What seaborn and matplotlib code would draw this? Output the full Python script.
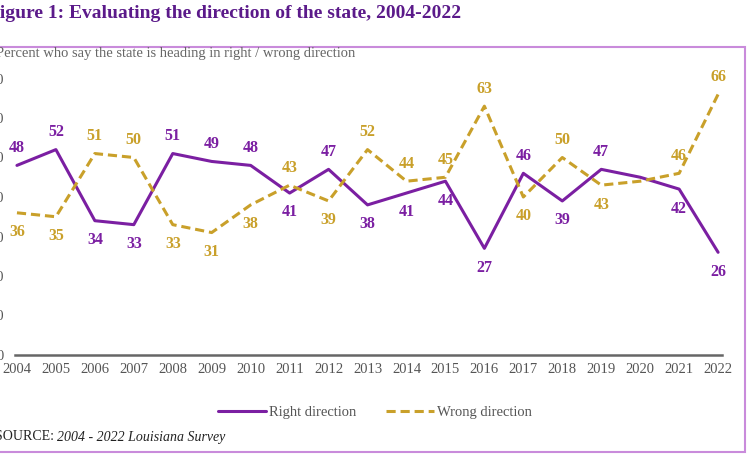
import matplotlib
matplotlib.use("Agg")
import matplotlib.pyplot as plt
import seaborn as sns
import pandas as pd
from matplotlib.patches import Rectangle
from matplotlib.lines import Line2D

years = list(range(2004, 2023))
right = [48, 52, 34, 33, 51, 49, 48, 41, 47, 38, 41, 44, 27, 46, 39, 47, 45, 42, 26]
wrong = [36, 35, 51, 50, 33, 31, 38, 43, 39, 52, 44, 45, 63, 40, 50, 43, 44, 46, 66]
right_pos = ['a','a','b','b','a','a','a','b','a','b','b','b','b','a','b','a',None,'b','b']
wrong_pos = ['b','b','a','a','b','b','b','a','b','a','a','a','a','b','a','b',None,'a','a']

PURPLE = "#7B1FA2"
GOLD = "#C9A02A"
sns.set_theme(style="white")
plt.rcParams['font.family'] = ['Liberation Serif', 'DejaVu Serif']

df = pd.DataFrame({"year": years + years,
                   "value": right + wrong,
                   "series": ["Right direction"] * len(years) + ["Wrong direction"] * len(years)})

fig = plt.figure(figsize=(7.5, 4.63), dpi=100)
W, H = 750, 463
fig.patches.append(Rectangle((-5 / W, 1 - 452 / H), 750 / W, 405 / H, transform=fig.transFigure,
                             fill=False, edgecolor="#C98BDB", linewidth=1.5))
ax = fig.add_axes([15 / W, 1 - 355 / H, 707 / W, (355 - 78.5) / H])
sns.lineplot(data=df, x="year", y="value", hue="series", style="series",
             palette=[PURPLE, GOLD], dashes=[(None, None), (3, 1.6)], linewidth=2.2, ax=ax, legend=False)
ax.set_xlim(2003.95, 2022.1)
ax.set_ylim(0, 70)
ax.set_yticks(range(0, 71, 10))
ax.set_xticks(years)
ax.set_xticklabels([str(y) for y in years], fontsize=10.5, color="#555555")
ax.set_yticklabels([str(v) for v in range(0, 71, 10)], fontsize=10.5, color="#555555")
ax.tick_params(axis='y', pad=8, length=0)
ax.tick_params(axis='x', pad=6, length=0)
ax.set_xlabel(""); ax.set_ylabel("")
for s in ["top", "right", "left"]:
    ax.spines[s].set_visible(False)
ax.spines["bottom"].set_color("#666666")
ax.spines["bottom"].set_linewidth(1.8)
ax.patch.set_alpha(0)

for vals, pos, col in [(right, right_pos, PURPLE), (wrong, wrong_pos, GOLD)]:
    for x, v, p in zip(years, vals, pos):
        if p is None:
            continue
        dy = 12.5 if p == 'a' else -14
        ax.annotate(str(v), (x, v), xytext=(0, dy), textcoords="offset points",
                    ha="center", va="center", fontsize=11.5, fontweight="bold", color=col)

fig.text(-12 / W, 1 - 14 / H, "Figure 1: Evaluating the direction of the state, 2004-2022",
         fontsize=14, fontweight="bold", color="#5B1A8A", va="center", ha="left")
fig.text(-4 / W, 1 - 54 / H, "Percent who say the state is heading in right / wrong direction",
         fontsize=10.5, color="#666666", va="center", ha="left")
fig.text(-5 / W, 1 - 437 / H, "SOURCE: ", fontsize=10, color="#222222", va="center", ha="left")
fig.text(57 / W, 1 - 437 / H, "2004 - 2022 Louisiana Survey", fontsize=10, style="italic",
         color="#222222", va="center", ha="left")

handles = [Line2D([], [], color=PURPLE, lw=2.2), Line2D([], [], color=GOLD, lw=2.2, ls=(0, (3, 1.6)))]
fig.legend(handles, ["Right direction", "Wrong direction"], loc="center", ncol=2,
           bbox_to_anchor=(0.5, 1 - 412 / H), frameon=False, fontsize=10.5,
           handlelength=3.3, handletextpad=0.2, columnspacing=2.0, labelcolor="#555555")
fig.savefig("out.png", dpi=100)
